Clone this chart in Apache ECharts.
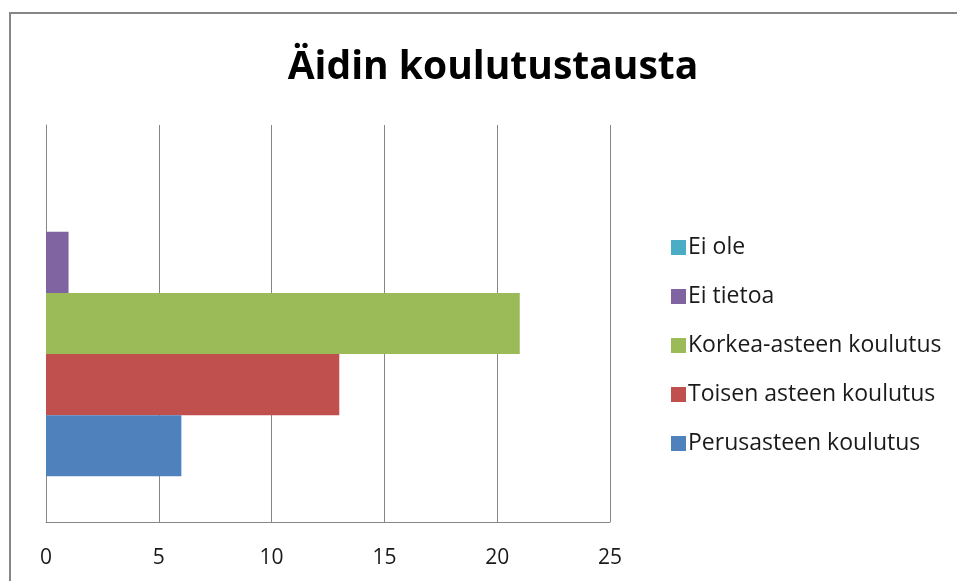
<!DOCTYPE html>
<html>
<head>
<meta charset="utf-8">
<script src="https://cdn.jsdelivr.net/npm/echarts@6/dist/echarts.min.js"></script>
<style>
  html, body { margin: 0; padding: 0; background: #fff; }
  #chart { width: 957px; height: 581px; }
</style>
</head>
<body>
<div id="chart"></div>
<script>
  // data
  const categories = ['Äiti'];
  const seriesNames = ['Perusasteen koulutus', 'Toisen asteen koulutus', 'Korkea-asteen koulutus', 'Ei tietoa', 'Ei ole'];
  const seriesValues = [6, 13, 21, 1, 0];
  const seriesColors = ['#4F81BD', '#C0504D', '#9BBB59', '#8064A2', '#4BACC6'];
  const xTicks = [0, 5, 10, 15, 20, 25];

  const chart = echarts.init(document.getElementById('chart'));

  // echarts lays the first series at the top of a horizontal group,
  // so the list is reversed to keep Perusasteen at the bottom
  const series = seriesNames.map((name, i) => {
    return {
      name: name,
      type: 'bar',
      data: [seriesValues[i]],
      itemStyle: { color: seriesColors[i] },
      barGap: '0%',
      barCategoryGap: '23%'
    };
  }).reverse();

  chart.setOption({
    backgroundColor: '#FFFFFF',
    animation: false,
    title: {
      text: 'Äidin koulutustausta',
      left: 488,
      textAlign: 'center',
      top: 43,
      textStyle: {
        fontFamily: 'Open Sans',
        fontWeight: 'bold',
        fontSize: 39,
        color: '#000'
      }
    },
    // chart frame, only top and left edges show in the picture
    graphic: [{
      type: 'polyline',
      shape: { points: [[10, 600], [10, 13], [960, 13]] },
      style: { fill: null, stroke: '#868686', lineWidth: 2 },
      silent: true
    }],
    legend: {
      orient: 'vertical',
      left: 666,
      top: 231,
      itemWidth: 15,
      itemHeight: 15,
      itemGap: 26,
      icon: 'rect',
      data: seriesNames.slice().reverse(),
      textStyle: {
        fontFamily: 'Open Sans',
        fontSize: 23,
        color: '#1a1a1a',
        padding: [0, 0, 0, -3]
      }
    },
    grid: {
      left: 46,
      right: 347,
      top: 125,
      bottom: 59
    },
    xAxis: {
      type: 'value',
      min: xTicks[0],
      max: xTicks[xTicks.length - 1],
      interval: 5,
      axisLine: { show: true, lineStyle: { color: '#868686', width: 1 } },
      axisTick: { show: false },
      axisLabel: {
        margin: 26,
        fontFamily: 'Open Sans',
        fontSize: 21,
        color: '#1a1a1a'
      },
      splitLine: { show: true, lineStyle: { color: '#868686', width: 1 } }
    },
    yAxis: {
      type: 'category',
      data: categories,
      axisLine: { show: true, lineStyle: { color: '#868686', width: 1 } },
      axisTick: { show: false },
      axisLabel: { show: false }
    },
    series: series
  });
</script>
</body>
</html>
